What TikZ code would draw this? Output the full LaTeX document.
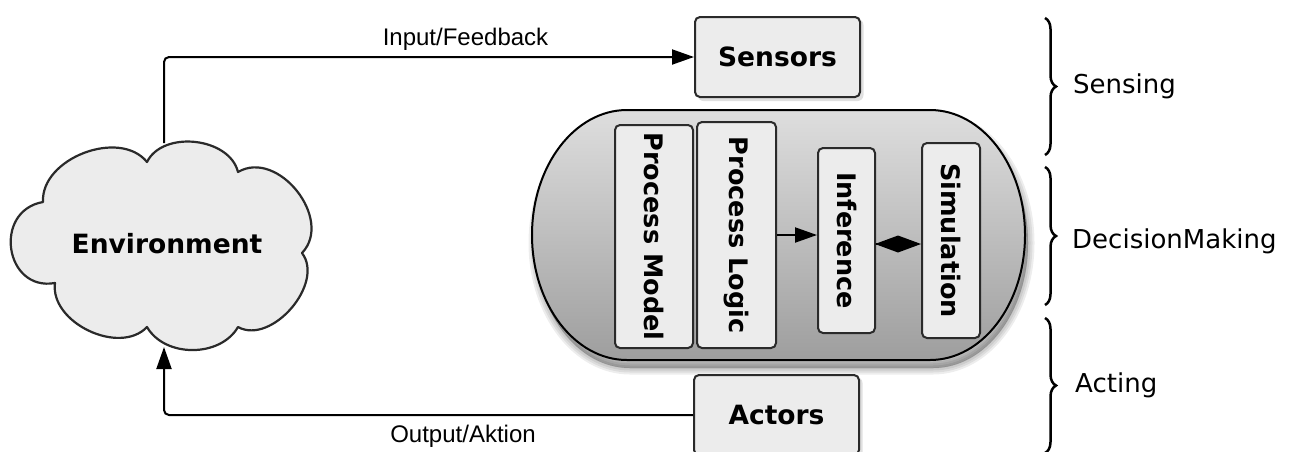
\documentclass[tikz,border=0pt]{standalone}
\usepackage{fontspec}
\setmainfont{DejaVu Sans}
\newfontfamily\arialf{Liberation Sans}
\usetikzlibrary{arrows.meta,decorations.pathreplacing,calc}
\definecolor{boxfill}{HTML}{ECECEC}
\definecolor{boxline}{HTML}{2A2A2A}
\definecolor{captop}{RGB}{222,222,222}
\definecolor{capbot}{RGB}{158,158,158}
\begin{document}
\begin{tikzpicture}[x=1pt,y=1pt,
  box/.style={draw=boxline, line width=2pt, fill=boxfill, rounded corners=5pt, inner sep=0pt},
  outerlbl/.style={font=\fontsize{26.5}{30}\selectfont\bfseries},
  innerlbl/.style={font=\fontsize{25.5}{30}\selectfont\bfseries},
  conn/.style={line width=2pt, draw=black, rounded corners=5pt},
  bigarrow/.style={-{Triangle[length=22pt,width=15pt]}},
  sidelbl/.style={font=\fontsize{26}{30}\selectfont, anchor=base west, inner sep=0pt},
  edgelbl/.style={font=\arialf\fontsize{24}{28}\selectfont, anchor=base, inner sep=0pt},
  bracestyle/.style={decorate, decoration={brace, amplitude=11pt}, line width=2.5pt},
  capsule/.style={insert path={(627,-110) -- (930,-110) arc[start angle=90,end angle=-90,x radius=95,y radius=125] -- (627,-360) arc[start angle=270,end angle=90,x radius=95,y radius=125] -- cycle}}
]
\useasboundingbox (0,0) rectangle (1295,-451);

% capsule shadow
\foreach \w in {1,5,9,13}{
  \draw[black, fill=black, opacity=0.07, line width=\w pt, line join=round, shift={(3,-8)}, capsule];
}
% capsule
\draw[line width=2pt, draw=black, top color=captop, bottom color=capbot, capsule];

% cloud
\draw[line width=2.2pt, draw=boxline, fill=boxfill, line join=round]
  (43,-202) to[bend left=72] (147,-162)
  to[bend left=70] (238,-172)
  to[bend left=82, looseness=1.15] (302,-253)
  to[bend left=78] (238,-327)
  to[bend left=60] (147,-327)
  to[bend left=72] (55,-283)
  to[out=190, in=190, looseness=1.6] (43,-202) -- cycle;
\node[outerlbl, anchor=base, inner sep=0pt] (env) at (167,-253) {Environment};
\coordinate (envtop) at (164,-143);
\coordinate (envbot) at (164,-347);

% boxes
\foreach \cx/\cy in {777.5/-57, 776.5/-415}{
  \fill[black, opacity=0.12, rounded corners=6pt] (\cx-80,\cy-44) rectangle (\cx+86,\cy+38);
}
\node[box, outerlbl, minimum width=165pt, minimum height=80pt] (sens) at (777.5,-57) {Sensors};
\node[box, outerlbl, minimum width=165pt, minimum height=80pt] (act) at (776.5,-415) {Actors};

\node[box, innerlbl, minimum width=78pt, minimum height=223pt] (pm) at (654,-236.5) {\rotatebox{-90}{Process Model}};
\node[box, innerlbl, minimum width=79pt, minimum height=226pt] (pl) at (736.5,-235) {\rotatebox{-90}{Process Logic}};
\node[box, innerlbl, minimum width=57pt, minimum height=185pt] (inf) at (846.5,-240.5) {\rotatebox{-90}{Inference}};
\node[box, innerlbl, minimum width=58pt, minimum height=195pt] (sim) at (951,-240.5) {\rotatebox{-90}{Simulation}};

% connectors
\draw[conn, bigarrow] (envtop) |- (sens.west);
\draw[conn, bigarrow] (act.west) -| (envbot);
\draw[conn, bigarrow] (pl.east) -- (pl.east -| inf.west);
\draw[line width=1.5pt, -{Diamond[length=46pt,width=17pt]}] ([yshift=-3.5pt]inf.east) -- ([yshift=-3.5pt]sim.west);

\node[edgelbl] (inlbl) at (465.5,-45) {Input/Feedback};
\node[edgelbl] (outlbl) at (463,-442) {Output/Aktion};

% braces
\draw[bracestyle] (1045,-18) -- (1045,-155);
\draw[bracestyle] (1045,-167) -- (1045,-305);
\draw[bracestyle] (1045,-318) -- (1045,-453);
\node[sidelbl] (s1) at (1073,-93) {Sensing};
\node[sidelbl] (s2) at (1072,-248) {DecisionMaking};
\node[sidelbl] (s3) at (1075,-392) {Acting};
\end{tikzpicture}
\end{document}
